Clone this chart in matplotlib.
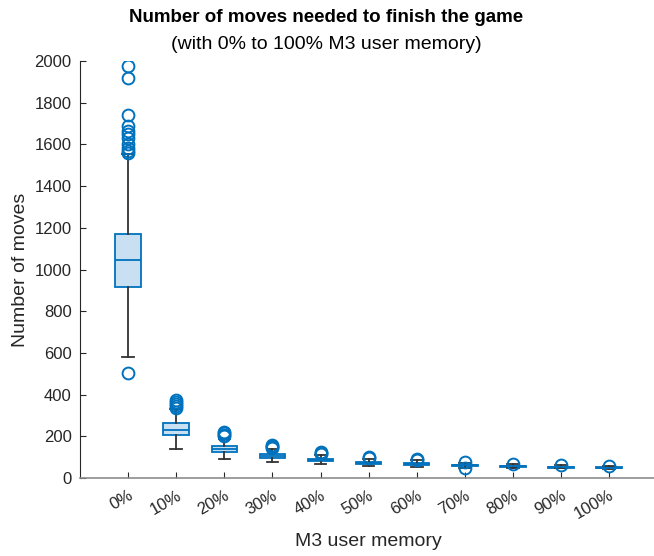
import matplotlib.pyplot as plt
import matplotlib.transforms as mtransforms

plt.rcParams['font.family'] = ['Liberation Sans', 'DejaVu Sans']

# summary of moves per memory level
labels = ['0%', '10%', '20%', '30%', '40%', '50%', '60%', '70%', '80%', '90%', '100%']
q1 = [915, 206, 126, 94, 83, 68, 62, 56, 54, 49, 47]
med = [1045, 232, 141, 106, 88, 74, 66, 60, 57, 52, 50]
q3 = [1172, 263, 155, 117, 93, 79, 70, 63, 59, 55, 52]
whislo = [580, 139, 91, 78, 66, 57, 54, 50, 50, 46, 45]
whishi = [1555, 330, 188, 140, 112, 92, 84, 72, 66, 62, 57]
fliers = [
    [1975, 1920, 1740, 1690, 1665, 1650, 1630, 1600, 1585, 1570, 1560, 505],
    [375, 365, 355, 345, 338],
    [222, 215, 208, 200],
    [160, 155, 150, 146],
    [124, 120, 117],
    [100, 96],
    [90, 86],
    [76, 46],
    [68],
    [63],
    [58],
]

stats = []
for i in range(len(labels)):
    stats.append(dict(med=med[i], q1=q1[i], q3=q3[i], whislo=whislo[i],
                      whishi=whishi[i], fliers=fliers[i], label=labels[i]))

blue = '#0072BD'
grey = '#333333'
txt = '#262626'

fig = plt.figure(figsize=(6.54, 5.56), dpi=100)
ax = fig.add_axes([80 / 654, 78 / 556, 1 - 80 / 654 + 0.005, (478 - 61) / 556])

ax.bxp(stats, positions=range(1, 12), widths=0.53, patch_artist=True,
       boxprops=dict(facecolor='#c8e0f1', edgecolor=blue, linewidth=1.3),
       medianprops=dict(color=blue, linewidth=1.3),
       whiskerprops=dict(color=grey, linewidth=1.3, linestyle='-'),
       capprops=dict(color=grey, linewidth=1.3),
       capwidths=0.24,
       flierprops=dict(marker='o', markerfacecolor='none', markeredgecolor=blue,
                       markersize=8.5, markeredgewidth=1.4))

ax.set_xlim(0, 12)
ax.set_ylim(0, 2000)
ax.set_yticks(range(0, 2001, 200))
ax.set_xticks(range(1, 12))
ax.set_xticklabels(labels, rotation=30, ha='right', va='top', rotation_mode='anchor')
off = mtransforms.ScaledTranslation(8 / 100, 0, fig.dpi_scale_trans)
for lab in ax.get_xticklabels():
    lab.set_transform(lab.get_transform() + off)

ax.tick_params(direction='in', length=4, width=0.8, colors=txt, labelsize=12, pad=6)
ax.tick_params(axis='x', pad=7)
for s in ['top', 'right']:
    ax.spines[s].set_visible(False)
ax.spines['left'].set_color(txt)
ax.spines['bottom'].set_color('#8c8c8c')
ax.spines['bottom'].set_linewidth(1.2)

ax.set_ylabel('Number of moves', fontsize=14, color=txt, labelpad=4)
ax.set_xlabel('M3 user memory', fontsize=14, color=txt, labelpad=8)

fig.text(326 / 654, 1 - 17 / 556, 'Number of moves needed to finish the game',
         ha='center', va='center', fontsize=13.5, fontweight='bold', color='black')
fig.text(326 / 654, 1 - 45 / 556, '(with 0% to 100% M3 user memory)',
         ha='center', va='center', fontsize=14, color='black')

fig.savefig('out.png', dpi=100)
